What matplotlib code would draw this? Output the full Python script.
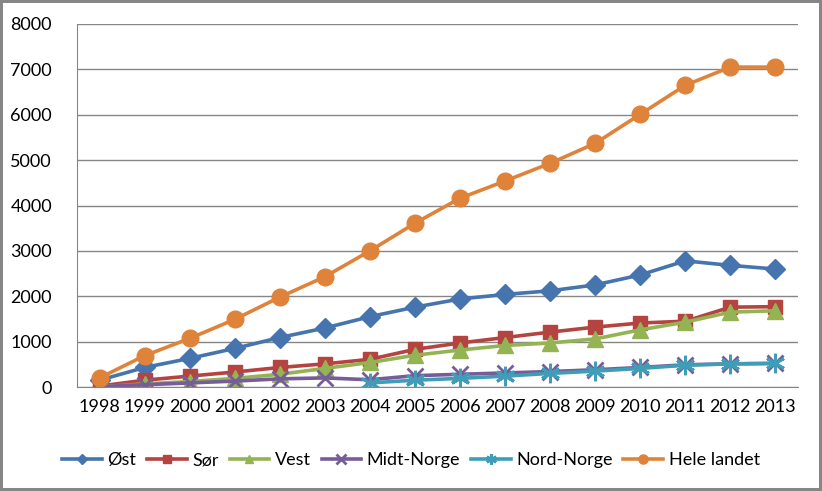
import numpy as np
import matplotlib
matplotlib.use("Agg")
import matplotlib.pyplot as plt

years = list(range(1998, 2014))

oest = [150, 430, 630, 850, 1090, 1300, 1550, 1760, 1940, 2040, 2120, 2250, 2470, 2780, 2680, 2600]
soer = [20, 150, 240, 330, 430, 510, 610, 830, 970, 1090, 1210, 1320, 1410, 1450, 1760, 1770]
vest = [0, 70, 120, 190, 280, 410, 540, 700, 815, 915, 970, 1060, 1260, 1430, 1650, 1680]
midt = [10, 50, 90, 130, 180, 200, 160, 250, 280, 310, 340, 380, 430, 490, 510, 520]
nord = [np.nan] * 6 + [90, 150, 190, 240, 300, 350, 410, 480, 510, 520]
hele = [200, 690, 1070, 1490, 1980, 2430, 3000, 3610, 4160, 4540, 4930, 5370, 6010, 6650, 7050, 7050]

series = [
    ("Øst", oest, "#4674AE", "D", 10),
    ("Sør", soer, "#B5433F", "s", 10),
    ("Vest", vest, "#94B454", "^", 11),
    ("Midt-Norge", midt, "#765C99", "x", 12),
    ("Nord-Norge", nord, "#3F9DB8", (6, 2, 0), 14),
    ("Hele landet", hele, "#E0833A", "o", 12),
]

plt.rcParams["font.family"] = ["Lato", "DejaVu Sans"]

fig = plt.figure(figsize=(8.22, 4.91), dpi=100)
fig.patch.set_edgecolor("#868686")
fig.patch.set_linewidth(3)
ax = fig.add_axes([77 / 822, 1 - 387 / 491, 721 / 822, 363 / 491])

x = np.arange(len(years))
for name, vals, color, marker, ms in series:
    mew = 2 if marker in ("x", (6, 2, 0)) else 1
    ax.plot(x, vals, color=color, lw=2.6, marker=marker, ms=ms,
            mew=mew, mec=color, mfc=color, label=name)

ax.set_xlim(-0.5, len(years) - 0.5)
ax.set_ylim(0, 8000)
ax.set_yticks(range(0, 8001, 1000))
ax.set_xticks(x)
ax.set_xticklabels([str(y) for y in years])
ax.grid(axis="y", color="#868686", lw=1)
ax.set_axisbelow(True)
for s in ["top", "right"]:
    ax.spines[s].set_visible(False)
for s in ["left", "bottom"]:
    ax.spines[s].set_color("#868686")
ax.tick_params(length=0, labelsize=13, pad=9)
ax.tick_params(axis="y", pad=18)

fig.legend(loc="center", bbox_to_anchor=(0.5, 1 - 460 / 491), ncol=6,
           frameon=False, fontsize=13, markerscale=0.55, handlelength=2.2,
           columnspacing=0.6, handletextpad=0.3)

fig.savefig("out.png", dpi=100)
